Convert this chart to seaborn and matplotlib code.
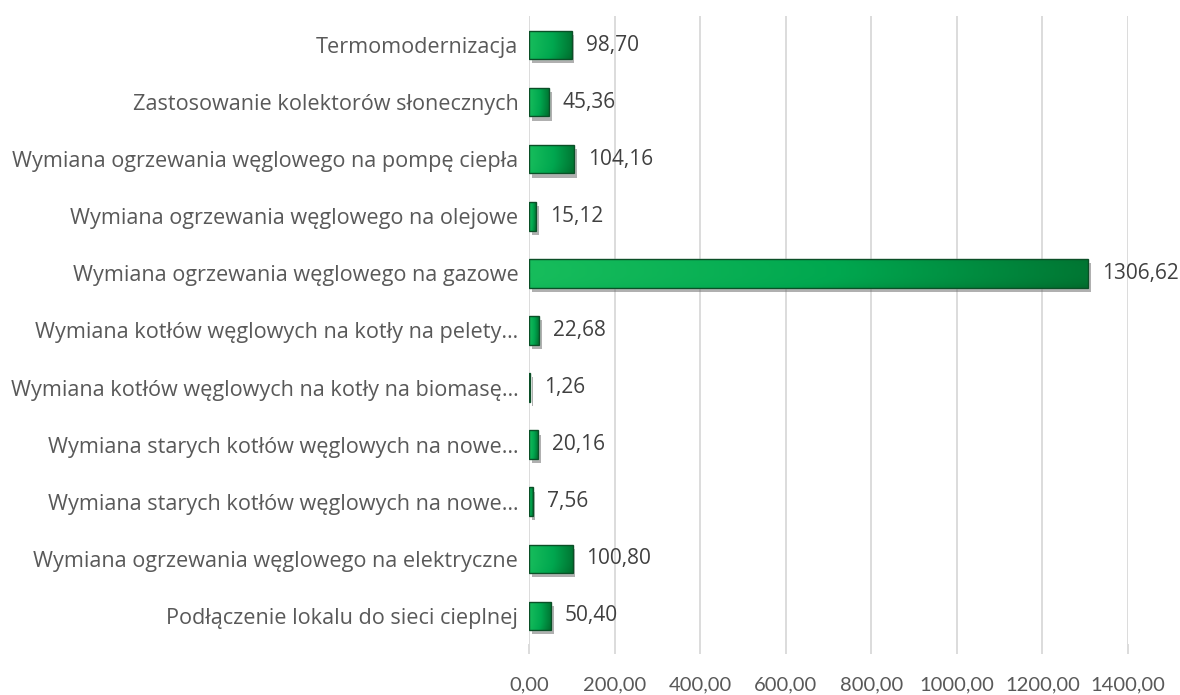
import matplotlib
matplotlib.use("Agg")
import matplotlib.pyplot as plt
import matplotlib.patheffects as pe
from matplotlib.patches import Rectangle
from matplotlib.colors import LinearSegmentedColormap
import numpy as np
import pandas as pd
import seaborn as sns

# data (top to bottom as in the chart)
categories = [
    "Termomodernizacja",
    "Zastosowanie kolektorów słonecznych",
    "Wymiana ogrzewania węglowego na pompę ciepła",
    "Wymiana ogrzewania węglowego na olejowe",
    "Wymiana ogrzewania węglowego na gazowe",
    "Wymiana kotłów węglowych na kotły na pelety…",
    "Wymiana kotłów węglowych na kotły na biomasę…",
    "Wymiana starych kotłów węglowych na nowe…",
    "Wymiana starych kotłów węglowych na nowe…",
    "Wymiana ogrzewania węglowego na elektryczne",
    "Podłączenie lokalu do sieci cieplnej",
]
values = [98.70, 45.36, 104.16, 15.12, 1306.62, 22.68, 1.26, 20.16, 7.56, 100.80, 50.40]
x_ticks = [0, 200, 400, 600, 800, 1000, 1200, 1400]

sns.set_theme(style="white")
plt.rcParams["font.family"] = ["Open Sans", "DejaVu Sans"]

fig = plt.figure(figsize=(11.8, 6.95), dpi=100)
ax = fig.add_axes([0.4487, 0.0727, 0.5072, 0.9036])

# unique keys so duplicate labels get their own rows
df = pd.DataFrame({"key": [str(i) for i in range(len(categories))], "value": values})
sns.barplot(data=df, x="value", y="key", orient="h", width=0.5,
            color="#00a84f", ax=ax, zorder=2)

# gradient fill clipped to each bar, plus shadow and dark edge
cmap = LinearSegmentedColormap.from_list("g", ["#17bd5c", "#00a74f", "#006a2c"])
gx = np.linspace(0, 1, 256)
gy = np.linspace(0, 1, 32)
grad = gx[None, :] * 0.9 + 0.1 * (np.abs(gy[:, None] - 0.4) * 1.7) ** 3
for p in list(ax.patches):
    x0, y0 = p.get_xy()
    w, h = p.get_width(), p.get_height()
    p.set_path_effects([pe.SimplePatchShadow(offset=(2, -3), shadow_rgbFace="#6f6f6f",
                                             alpha=0.55), pe.Normal()])
    im = ax.imshow(grad, cmap=cmap, extent=(x0, x0 + w, y0 + h, y0),
                   aspect="auto", zorder=3, interpolation="bilinear")
    im.set_clip_path(p)
    ax.add_patch(Rectangle((x0, y0), w, h, fill=False, ec="#0b4f27", lw=1.0, zorder=4))

# value labels
for i, v in enumerate(values):
    ax.annotate(f"{v:.2f}".replace(".", ","), xy=(v, i), xytext=(10, 0),
                textcoords="offset points", ha="left", va="center",
                fontsize=15, color="#404040")

ax.set_xlim(0, 1400)
ax.set_ylim(len(categories) - 0.5, -0.5)
ax.set_xticks(x_ticks)
ax.set_xticklabels([f"{t:.2f}".replace(".", ",") for t in x_ticks],
                   family=["Lato", "DejaVu Sans"])
ax.set_yticks(range(len(categories)))
ax.set_yticklabels(categories)
ax.set_xlabel("")
ax.set_ylabel("")

ax.grid(axis="x", color="#d9d9d9", lw=1.3, zorder=0)
ax.grid(axis="y", visible=False)
ax.set_axisbelow(True)
for s in ax.spines.values():
    s.set_visible(False)

ax.tick_params(axis="x", length=7, width=1.3, color="#d9d9d9", pad=16,
               labelsize=14.5, labelcolor="#595959", bottom=True)
ax.tick_params(axis="y", length=0, pad=8, labelsize=15.6, labelcolor="#595959")

fig.savefig("out.png", dpi=100)
